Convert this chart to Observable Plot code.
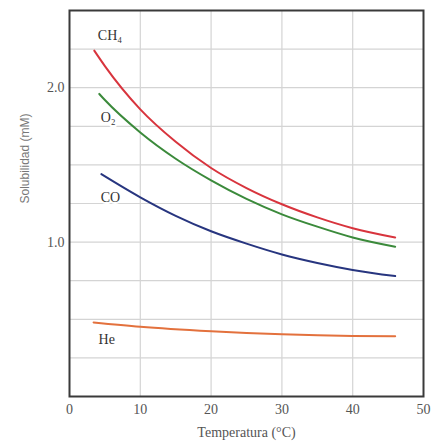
<!DOCTYPE html>
<html>
<head>
<meta charset="utf-8">
<script src="https://cdn.jsdelivr.net/npm/d3@7"></script>
<script src="https://cdn.jsdelivr.net/npm/@observablehq/plot@0.6"></script>
<style>
  html, body { margin: 0; padding: 0; background: #fff; }
</style>
</head>
<body>
<div id="chart"></div>
<script>
// Temperatures (°C) and solubilities (mM)
const tempCH4 = [3.5, 5, 10, 15, 20, 25, 30, 35, 40, 46];
const solCH4  = [2.24, 2.14, 1.86, 1.65, 1.48, 1.35, 1.245, 1.16, 1.09, 1.03];
const tempO2  = [4.2, 5, 10, 15, 20, 25, 30, 35, 40, 46];
const solO2   = [1.96, 1.92, 1.71, 1.54, 1.40, 1.28, 1.18, 1.10, 1.03, 0.97];
const tempCO  = [4.5, 10, 15, 20, 25, 30, 35, 40, 46];
const solCO   = [1.44, 1.29, 1.17, 1.07, 0.99, 0.92, 0.865, 0.82, 0.78];
const tempHe  = [3.4, 10, 20, 30, 40, 46];
const solHe   = [0.48, 0.452, 0.423, 0.403, 0.392, 0.39];

const gases = ["CH₄", "O₂", "CO", "He"];
const gasColors = ["#d8343d", "#3b8a3b", "#27357f", "#e3713d"];
const labelX = [4.0, 4.4, 4.4, 4.1];
const labelY = [2.34, 1.81, 1.29, 0.37];

const xTicks = [0, 10, 20, 30, 40, 50];
const yGrid = [0.25, 0.5, 0.75, 1.0, 1.25, 1.5, 1.75, 2.0, 2.25];
const yTicks = [1.0, 2.0];

const series = [
  [tempCH4, solCH4], [tempO2, solO2], [tempCO, solCO], [tempHe, solHe]
];
const rows = series.flatMap(([ts, ss], i) => ts.map((t, j) => ({gas: gases[i], t, s: ss[j]})));
const labels = gases.map((g, i) => ({gas: g, x: labelX[i], y: labelY[i]}));

const serif = "'Liberation Serif', 'DejaVu Serif', serif";

const chart = Plot.plot({
  width: 434,
  height: 446,
  marginLeft: 69,
  marginRight: 11,
  marginTop: 10,
  marginBottom: 50,
  style: {fontFamily: serif, fontSize: "13px", color: "#444", background: "#fff"},
  x: {domain: [0, 50]},
  y: {domain: [0, 2.5]},
  color: {domain: gases, range: gasColors},
  marks: [
    Plot.ruleX(xTicks.slice(1, -1), {stroke: "#d4d4d4", strokeWidth: 1.2, strokeOpacity: 1}),
    Plot.ruleY(yGrid, {stroke: "#d4d4d4", strokeWidth: 1.2, strokeOpacity: 1}),
    Plot.line(rows, {x: "t", y: "s", z: "gas", stroke: "gas", strokeWidth: 2, curve: "monotone-x"}),
    Plot.text(labels, {x: "x", y: "y", text: "gas", textAnchor: "start", fill: "#333",
      stroke: "white", strokeWidth: 4, fontSize: 14, fontFamily: serif}),
    Plot.frame({stroke: "#3a3a3a", strokeWidth: 2}),
    Plot.axisX(xTicks, {tickSize: 0, tickPadding: 8, fontSize: 14, fill: "#555",
      label: "Temperatura (°C)", labelAnchor: "center", labelArrow: "none", labelOffset: 40}),
    Plot.axisY(yTicks, {tickSize: 0, tickPadding: 5, tickFormat: d3.format(".1f"), fontSize: 14, fill: "#555",
      label: null}),
    Plot.text(["Solubilidad (mM)"], {frameAnchor: "left", dx: -44, rotate: -90, fill: "#777",
      fontFamily: "'Liberation Sans', Arial, sans-serif", fontSize: 12})
  ]
});
document.getElementById("chart").appendChild(chart);
</script>
</body>
</html>
